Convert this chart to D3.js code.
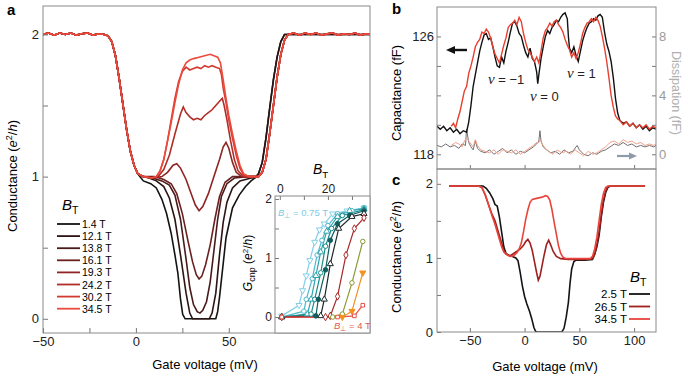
<!DOCTYPE html>
<html>
<head>
  <title>Conductance vs gate voltage</title>
  <script src="https://cdn.jsdelivr.net/npm/d3@7"></script>
  <style>
    body { margin: 0; background: #fff; }
    text { font-family: "Liberation Sans", Arial, sans-serif; }
  </style>
</head>
<body>
  <svg width="685" height="374" id="mainsvg"></svg>
  <script>
    // ---- panel a: conductance traces at several B_T ----
    const fieldsA = ['1.4 T', '12.1 T', '13.8 T', '16.1 T', '19.3 T', '24.2 T', '30.2 T', '34.5 T'];
    const colorsA = ['#141414', '#2c1414', '#4a1a1a', '#6c1f1f', '#8e2424', '#b22d27', '#d23a30', '#ec4a3c'];

    // shared left flank (2 -> 1 plateau), all traces overlap here
    const leftFlankA = [[-50, 2.0], [-47, 2.01], [-44, 1.995], [-41, 2.01], [-38, 2.0], [-35, 2.01], [-32, 1.995],
      [-29, 2.005], [-26, 2.01], [-23, 1.995], [-20, 2.005], [-17, 2.0], [-15, 1.99], [-13, 1.95], [-11, 1.85],
      [-9, 1.69], [-7, 1.51], [-5, 1.33], [-3, 1.18], [-1, 1.08], [1, 1.02]];
    const rightFlankRed = [[66, 1.0], [68, 1.03], [70, 1.12], [72, 1.3], [74, 1.5], [76, 1.7], [78, 1.86], [80, 1.96],
      [82, 2.0], [85, 2.01], [88, 1.995], [91, 2.01], [94, 2.0], [97, 2.01], [100, 1.995], [103, 2.005], [106, 2.01],
      [109, 1.995], [112, 2.005], [115, 2.0], [118, 2.01], [121, 1.995], [124, 2.005], [126, 2.0]];
    const rightFlankBlack = [[64, 0.99], [66, 1.02], [68, 1.1], [70, 1.27], [72, 1.48], [74, 1.68], [76, 1.84],
      [78, 1.95], [80, 2.0], [126, 2.0]];

    const midA = [
      [[4, 0.97], [8, 0.95], [11, 0.92], [14, 0.84], [16.5, 0.74], [19, 0.6], [21, 0.45], [22.6, 0.32], [24, 0.14],
        [25.2, 0.03], [26.5, 0], [43, 0], [44, 0.05], [45, 0.15], [46, 0.27], [48.5, 0.57], [52, 0.78], [55.6, 0.87],
        [59, 0.93], [62, 0.97]],
      [[4, 1.0], [7, 0.99], [11, 0.97], [15, 0.93], [18, 0.85], [21, 0.7], [24, 0.45], [27, 0.18], [29, 0.04],
        [30.5, 0], [39.5, 0], [41, 0.04], [43, 0.18], [45, 0.45], [47, 0.68], [49, 0.82], [52, 0.92], [56, 0.97],
        [62, 0.99]],
      [[4, 1.0], [9, 0.99], [14, 0.97], [18, 0.94], [21, 0.87], [24, 0.7], [27, 0.42], [29, 0.22], [31, 0.1],
        [33, 0.05], [34.5, 0.04], [36, 0.06], [38, 0.12], [40, 0.26], [42, 0.48], [44, 0.7], [46, 0.86], [49, 0.95],
        [53, 0.99], [60, 1.0]],
      [[4, 1.0], [10, 1.0], [15, 0.98], [19, 0.95], [22, 0.88], [25, 0.74], [28, 0.55], [30.5, 0.4], [32.5, 0.31],
        [34, 0.28], [35.5, 0.3], [37.5, 0.38], [40, 0.52], [42.5, 0.7], [45, 0.86], [48, 0.96], [52, 1.0], [60, 1.0]],
      [[4, 1.0], [10, 0.99], [14, 1.0], [17, 1.03], [20, 1.08], [22, 1.09], [24, 1.06], [27, 0.98], [30, 0.87],
        [32, 0.8], [34, 0.76], [36, 0.79], [39, 0.88], [42, 1.0], [45, 1.12], [47, 1.21], [48.5, 1.24], [50, 1.2],
        [52, 1.1], [54, 1.03], [57, 1.0], [62, 1.0]],
      [[4, 1.0], [9, 0.99], [12, 1.0], [15, 1.05], [18, 1.15], [21, 1.3], [24, 1.44], [25.5, 1.49], [27, 1.45],
        [29, 1.42], [31, 1.4], [33, 1.41], [35, 1.4], [37, 1.43], [39, 1.45], [41, 1.47], [43, 1.5], [45, 1.53],
        [46.5, 1.55], [47.5, 1.5], [49, 1.4], [51, 1.25], [53, 1.12], [55, 1.04], [58, 1.0], [62, 1.0]],
      [[4, 1.0], [9, 0.99], [11, 1.0], [13, 1.04], [15, 1.12], [17, 1.25], [19, 1.4], [21, 1.55], [23, 1.67],
        [25, 1.74], [27, 1.77], [29, 1.75], [31, 1.76], [33, 1.77], [35, 1.76], [37, 1.78], [39, 1.77], [41, 1.78],
        [43, 1.77], [45, 1.76], [46, 1.72], [47, 1.62], [48.5, 1.52], [50, 1.4], [52, 1.27], [54, 1.15], [56, 1.06],
        [58, 1.01], [61, 1.0]],
      [[4, 1.0], [8, 0.99], [11, 1.0], [13, 1.04], [15, 1.12], [17, 1.25], [19, 1.38], [21, 1.52], [23, 1.65],
        [25, 1.75], [27, 1.8], [29, 1.82], [31, 1.83], [34, 1.84], [37, 1.85], [40, 1.86], [42, 1.85], [44, 1.84],
        [45.5, 1.8], [47, 1.68], [48.5, 1.55], [50, 1.43], [52, 1.3], [54, 1.18], [56, 1.08], [58, 1.02], [61, 1.0]]
    ];

    // ---- inset: G_cnp vs B_T for several B_perp ----
    const insetColors = ['#84cfe8', '#4fb8cc', '#2ea3ac', '#1a8c8c', '#0f5f5f', '#1c2626', '#a82626', '#8c9a34', '#f29222', '#e8504a'];
    const insetSymbols = ['triDown', 'circle', 'tri', 'circle', 'dot', 'tri', 'diamond', 'circle', 'triDownFill', 'square'];
    const insetPoints = [
      [[0.8, 0.02], [8, 0.2], [9.5, 0.45], [11, 0.7], [12.5, 0.96], [14.5, 1.27], [16.5, 1.48], [18.5, 1.58], [22, 1.75], [28, 1.8], [35, 1.85]],
      [[0.8, 0], [10, 0.1], [11, 0.3], [13.5, 0.65], [15.5, 1.05], [17.5, 1.3], [20, 1.55], [24, 1.75], [30, 1.8], [35, 1.85]],
      [[0.8, 0], [11.5, 0.05], [13, 0.3], [15, 0.7], [17, 1.1], [19.5, 1.45], [24, 1.7], [29, 1.8], [35, 1.83]],
      [[0.8, 0], [13, 0.05], [14.5, 0.3], [17, 0.75], [19, 1.2], [21.5, 1.5], [26, 1.72], [35, 1.82]],
      [[0.8, 0], [15, 0.02], [16, 0.3], [19, 0.8], [21, 1.3], [24, 1.58], [29, 1.72], [35, 1.8]],
      [[0.8, 0], [17, 0.02], [18.5, 0.3], [21, 0.9], [24.5, 1.5], [30, 1.7], [35, 1.75]],
      [[0.8, 0], [19, 0], [21, 0.02], [24, 0.35], [27.5, 1.05], [31, 1.5], [35, 1.68]],
      [[22, 0], [26, 0.05], [30, 0.58], [34.5, 1.28]],
      [[26, 0], [30, 0.1], [34.5, 0.75]],
      [[0.8, 0], [24, 0], [31, 0.02], [34.5, 0.2]]
    ];

    // ---- panel b: capacitance and dissipation ----
    const capBlack = [[-80, 119.9], [-77, 119.7], [-74, 119.9], [-71, 119.6], [-68, 119.8], [-65, 119.5], [-62, 119.7],
      [-59, 119.4], [-56, 119.6], [-53, 119.5], [-51, 120.2], [-49, 121.3], [-47, 122.6], [-45, 123.4], [-43, 124.2],
      [-41, 125.0], [-39, 125.6], [-37, 126.1], [-35, 126.2], [-33, 125.8], [-31, 125.9], [-29, 125.3], [-27, 124.6],
      [-25, 124.0], [-23, 123.9], [-21, 124.6], [-19, 124.2], [-17, 125.0], [-15, 125.6], [-13, 126.3], [-11, 126.9],
      [-9, 127.0], [-7, 126.7], [-5, 126.2], [-3, 126.0], [-1, 125.4], [1, 124.9], [3, 124.6], [5, 125.2], [7, 124.5],
      [9, 124.3], [11, 123.6], [12, 122.8], [13, 123.4], [15, 124.5], [17, 125.3], [19, 126.0], [21, 126.4], [23, 126.2],
      [25, 126.6], [27, 126.8], [29, 127.1], [31, 127.0], [33, 127.3], [35, 127.5], [37, 127.6], [39, 127.2], [40, 126.0],
      [41, 125.2], [43, 124.9], [45, 125.3], [47, 124.7], [49, 124.3], [51, 125.0], [53, 125.7], [55, 126.2], [57, 126.6],
      [59, 126.9], [61, 127.0], [63, 127.2], [65, 127.1], [67, 127.4], [69, 127.5], [71, 127.3], [73, 126.3], [75, 125.5],
      [77, 125.0], [79, 124.3], [81, 123.2], [83, 121.8], [85, 120.8], [87, 120.3], [90, 120.1], [93, 120.2], [96, 119.9],
      [99, 120.1], [102, 119.8], [105, 120.0], [108, 119.7], [111, 119.9], [114, 119.6], [117, 119.8], [120, 119.7]];
    const capRed = [[-67, 119.9], [-65, 120.1], [-63, 119.8], [-61, 120.4], [-59, 120.9], [-57, 121.6], [-55, 122.3],
      [-53, 122.6], [-51, 123.5], [-49, 124.0], [-47, 124.6], [-45, 125.3], [-43, 125.6], [-41, 125.8], [-39, 126.3],
      [-37, 126.2], [-35, 126.5], [-33, 126.3], [-31, 125.9], [-29, 125.3], [-27, 124.8], [-25, 124.5], [-23, 124.2],
      [-21, 124.8], [-19, 125.4], [-17, 125.9], [-15, 126.6], [-13, 126.8], [-11, 126.9], [-9, 127.1], [-7, 126.8],
      [-5, 127.3], [-3, 127.0], [-1, 126.2], [1, 125.6], [3, 125.1], [5, 124.9], [7, 124.6], [9, 124.3], [11, 124.6],
      [13, 124.2], [15, 125.0], [17, 125.9], [19, 126.4], [21, 126.6], [23, 126.9], [25, 126.7], [27, 127.0], [29, 127.1],
      [31, 126.8], [33, 126.6], [35, 126.3], [37, 125.8], [39, 125.4], [41, 125.1], [43, 124.6], [45, 124.9], [47, 124.5],
      [49, 124.9], [51, 125.5], [53, 126.2], [55, 126.6], [57, 126.9], [59, 127.0], [61, 127.2], [63, 127.0], [65, 127.3],
      [67, 127.1], [69, 126.7], [71, 126.0], [73, 125.2], [75, 124.3], [77, 123.2], [79, 122.0], [81, 121.2], [83, 120.6],
      [85, 120.4], [87, 120.3], [90, 120.0], [93, 120.2], [96, 119.9], [99, 120.1], [102, 119.8], [105, 120.0],
      [108, 119.8], [111, 120.0], [114, 119.7], [117, 119.9], [120, 119.8]];
    const disGray = [[-80, 0.6], [-76, 0.5], [-72, 0.7], [-68, 0.5], [-64, 0.6], [-60, 0.4], [-57, 0.7], [-54, 0.6],
      [-53, 1.7], [-51, 0.8], [-49, 0.5], [-47, 0.3], [-45, 0.9], [-43, 0.4], [-40, 0.2], [-36, 0.1], [-32, 0.3],
      [-28, 0.0], [-24, 0.2], [-20, 0.4], [-16, 0.1], [-12, 0.3], [-8, 0.0], [-4, 0.2], [0, 0.1], [4, 0.3], [8, 0.5],
      [11, 0.7], [13, 0.9], [14, 1.6], [15, 0.9], [17, 0.5], [20, 0.3], [24, 0.1], [28, 0.2], [32, 0.0], [36, 0.3],
      [40, 0.1], [44, 0.2], [48, 0.6], [50, 0.3], [54, 0.0], [58, -0.1], [62, 0.1], [66, 0.0], [70, 0.2], [74, 0.3],
      [78, 0.5], [82, 0.7], [86, 0.6], [90, 0.8], [94, 0.6], [98, 0.7], [102, 0.5], [106, 0.6], [110, 0.5], [114, 0.6],
      [118, 0.5], [120, 0.6]];
    const disRed = [[-67, 0.6], [-63, 0.8], [-60, 0.7], [-57, 0.5], [-55, 0.9], [-53, 1.1], [-50, 0.8], [-47, 0.5],
      [-45, 1.0], [-43, 0.6], [-40, 0.3], [-36, 0.2], [-32, 0.1], [-28, 0.3], [-24, 0.0], [-20, 0.3], [-16, 0.2],
      [-12, 0.1], [-8, 0.3], [-4, 0.0], [0, 0.2], [4, 0.4], [8, 0.6], [11, 0.8], [13, 0.8], [14, 1.0], [16, 0.7],
      [19, 0.4], [22, 0.2], [26, 0.0], [30, 0.3], [34, 0.1], [38, 0.2], [42, 0.0], [46, 0.3], [50, 0.1], [54, -0.1],
      [58, 0.2], [62, 0.0], [66, 0.1], [70, 0.3], [74, 0.5], [78, 0.8], [82, 0.9], [86, 0.7], [90, 1.0], [94, 0.8],
      [98, 0.9], [102, 0.7], [106, 0.8], [110, 0.6], [114, 0.7], [118, 0.6], [120, 0.7]];

    // ---- panel c: three traces ----
    const fieldsC = ['2.5 T', '26.5 T', '34.5 T'];
    const colorsC = ['#141414', '#a01f1f', '#e8453a'];
    const curvesC = [
      [[-69, 1.97], [-45, 1.97], [-38, 1.97], [-35, 1.94], [-32, 1.88], [-29, 1.8], [-27, 1.72], [-25, 1.7], [-23, 1.55],
        [-21, 1.35], [-19, 1.15], [-17, 1.06], [-14, 1.03], [-11, 1.02], [-8, 1.0], [-6, 0.96], [-4, 0.8], [-2, 0.62],
        [0, 0.48], [2, 0.38], [4.5, 0.28], [6.5, 0.18], [8.5, 0.06], [10, 0.01], [11, 0], [34, 0], [36, 0.05], [38, 0.2],
        [40, 0.4], [41.5, 0.66], [43, 0.85], [45, 0.95], [47, 0.97], [55, 0.97], [62, 0.98], [64, 1.05], [66, 1.15],
        [68, 1.3], [70, 1.55], [72, 1.75], [74, 1.88], [76, 1.95], [78, 1.97], [110, 1.97]],
      [[-69, 1.97], [-42, 1.97], [-39, 1.95], [-36, 1.85], [-33, 1.72], [-30, 1.6], [-27, 1.5], [-25, 1.4], [-23, 1.3],
        [-21, 1.2], [-19, 1.1], [-17, 1.05], [-15, 1.04], [-13, 1.03], [-10, 1.06], [-7, 1.09], [-4, 1.12], [-1, 1.17],
        [1, 1.22], [3, 1.25], [5, 1.2], [7, 1.1], [9, 0.95], [11, 0.8], [12.5, 0.7], [14, 0.75], [16, 0.9], [18, 1.05],
        [20, 1.18], [22, 1.24], [24, 1.17], [26, 1.09], [29, 1.02], [33, 0.99], [40, 0.98], [55, 0.98], [62, 0.99],
        [64, 1.05], [66, 1.18], [68, 1.35], [70, 1.58], [72, 1.78], [74, 1.9], [76, 1.96], [78, 1.97], [110, 1.97]],
      [[-69, 1.97], [-42, 1.97], [-39, 1.95], [-36, 1.86], [-33, 1.72], [-30, 1.58], [-27, 1.45], [-25, 1.35],
        [-23, 1.25], [-21, 1.15], [-19, 1.08], [-16, 1.04], [-13, 1.02], [-10, 1.03], [-7, 1.07], [-5, 1.12], [-3, 1.2],
        [-1, 1.35], [1, 1.52], [3, 1.65], [5, 1.75], [7, 1.79], [10, 1.8], [13, 1.81], [16, 1.82], [19, 1.84], [21, 1.83],
        [23, 1.78], [25, 1.65], [27, 1.48], [29, 1.32], [31, 1.16], [33, 1.06], [35, 1.01], [38, 0.99], [50, 0.99],
        [60, 0.99], [62, 1.02], [64, 1.12], [66, 1.28], [68, 1.5], [70, 1.72], [72, 1.87], [74, 1.95], [76, 1.97],
        [110, 1.97]]
    ];

    const svg = d3.select('#mainsvg');
    const fmt = d => d < 0 ? '\u2212' + Math.abs(d) : String(d);
    const frameColor = '#8a8a8a';

    // scales
    const xA = d3.scaleLinear().domain([-50, 126]).range([43, 370]);
    const yA = d3.scaleLinear().domain([-0.1, 2.2]).range([333, 6]);
    const xIn = d3.scaleLinear().domain([-2, 37.5]).range([275, 370]);
    const yIn = d3.scaleLinear().domain([-0.27, 2.05]).range([333, 196]);
    const xBC = d3.scaleLinear().domain([-80, 120]).range([437, 656]);
    const yCap = d3.scaleLinear().domain([117, 128]).range([169, 7]);
    const yDis = d3.scaleLinear().domain([-1, 10]).range([169, 7]);
    const yC = d3.scaleLinear().domain([0, 2.2]).range([332, 169]);

    // clip paths for the panels
    const defs = svg.append('defs');
    const clip = (id, x, y, w, h) => defs.append('clipPath').attr('id', id)
      .append('rect').attr('x', x).attr('y', y).attr('width', w).attr('height', h);
    clip('clipA', 43, 6, 327, 327);
    clip('clipB', 437, 7, 219, 162);
    clip('clipC', 437, 169, 219, 163);

    function styleAxis(g, size, color) {
      g.select('.domain').remove();
      g.selectAll('line').attr('stroke', '#777');
      g.selectAll('text').attr('font-size', size).attr('fill', color || '#222')
        .attr('font-family', '"Liberation Sans", Arial, sans-serif');
    }

    function condLabel(t, prefix) {
      t.append('tspan').text(prefix);
      t.append('tspan').attr('font-style', 'italic').text('e');
      t.append('tspan').attr('dy', -5).attr('font-size', 9).text('2');
      t.append('tspan').attr('dy', 5).text('/');
      t.append('tspan').attr('font-style', 'italic').text('h');
      t.append('tspan').text(')');
    }

    function bLabel(t, sub, size) {
      t.append('tspan').attr('font-style', 'italic').text('B');
      t.append('tspan').attr('dy', 4).attr('font-size', size * 0.7).text(sub);
    }

    // ===================== panel a =====================
    const ga = svg.append('g');
    const lineA = d3.line().x(d => xA(d[0])).y(d => yA(d[1]));
    midA.forEach((mid, i) => {
      const pts = leftFlankA.concat(mid, i < 2 ? rightFlankBlack : rightFlankRed);
      ga.append('path').datum(pts).attr('d', lineA)
        .attr('clip-path', 'url(#clipA)')
        .attr('fill', 'none').attr('stroke', colorsA[i]).attr('stroke-width', 1.6);
    });

    const axAy = ga.append('g').attr('transform', 'translate(43,0)')
      .call(d3.axisLeft(yA).tickValues([0, 0.5, 1, 1.5, 2]).tickSize(-5).tickPadding(4)
        .tickFormat(d => Number.isInteger(d) ? fmt(d) : ''));
    styleAxis(axAy, 13);
    const axAx = ga.append('g').attr('transform', 'translate(0,333)')
      .call(d3.axisBottom(xA).tickValues([-50, -25, 0, 25, 50]).tickSize(-5).tickPadding(4)
        .tickFormat(d => d % 50 === 0 ? fmt(d) : ''));
    styleAxis(axAx, 13);
    ga.append('rect').attr('x', 43).attr('y', 6).attr('width', 327).attr('height', 327)
      .attr('fill', 'none').attr('stroke', frameColor);

    ga.append('text').text('a').attr('x', 7).attr('y', 15).attr('font-size', 15).attr('font-weight', 'bold');
    condLabel(ga.append('text').attr('font-size', 13).attr('text-anchor', 'middle')
      .attr('transform', 'translate(17,176) rotate(-90)'), 'Conductance  (');
    ga.append('text').text('Gate voltage (mV)').attr('x', 205).attr('y', 369)
      .attr('font-size', 13).attr('text-anchor', 'middle');

    // legend a
    bLabel(ga.append('text').attr('x', 62).attr('y', 210).attr('font-size', 15), 'T', 15);
    fieldsA.forEach((f, i) => {
      const y = 224 + i * 12.1;
      ga.append('line').attr('x1', 57).attr('x2', 80).attr('y1', y).attr('y2', y)
        .attr('stroke', colorsA[i]).attr('stroke-width', 1.8);
      ga.append('text').text(f).attr('x', 82).attr('y', y + 4).attr('font-size', 10.5);
    });

    // ===================== inset =====================
    const gi = svg.append('g');
    gi.append('rect').attr('x', 275).attr('y', 196).attr('width', 95).attr('height', 137).attr('fill', '#fff');
    const lineIn = d3.line().x(d => xIn(d[0])).y(d => yIn(d[1]));
    const symTypes = {
      triDown: d3.symbolTriangle, triDownFill: d3.symbolTriangle, tri: d3.symbolTriangle,
      circle: d3.symbolCircle, dot: d3.symbolCircle, diamond: d3.symbolDiamond, square: d3.symbolSquare
    };
    insetPoints.forEach((pts, i) => {
      gi.append('path').datum(pts).attr('d', lineIn).attr('fill', 'none')
        .attr('stroke', insetColors[i]).attr('stroke-width', 1.2);
    });
    insetPoints.forEach((pts, i) => {
      const s = insetSymbols[i];
      const filled = s === 'dot' || s === 'triDownFill';
      const rot = s.startsWith('triDown') ? 180 : 0;
      gi.selectAll(null).data(pts).join('path')
        .attr('d', d3.symbol().type(symTypes[s]).size(s === 'square' ? 13 : 16))
        .attr('transform', d => `translate(${xIn(d[0])},${yIn(d[1])}) rotate(${rot})`)
        .attr('fill', filled ? insetColors[i] : '#fff')
        .attr('stroke', insetColors[i]).attr('stroke-width', 1);
    });
    const axIy = gi.append('g').attr('transform', 'translate(275,0)')
      .call(d3.axisLeft(yIn).tickValues([0, 0.5, 1, 1.5, 2]).tickSize(-4).tickPadding(3)
        .tickFormat(d => Number.isInteger(d) ? fmt(d) : ''));
    styleAxis(axIy, 12);
    const axIx = gi.append('g').attr('transform', 'translate(0,196)')
      .call(d3.axisTop(xIn).tickValues([0, 10, 20, 30]).tickSize(-4).tickPadding(3)
        .tickFormat(d => d % 20 === 0 ? fmt(d) : ''));
    styleAxis(axIx, 12);
    gi.append('rect').attr('x', 275).attr('y', 196).attr('width', 95).attr('height', 137)
      .attr('fill', 'none').attr('stroke', frameColor);
    bLabel(gi.append('text').attr('x', 313).attr('y', 174).attr('font-size', 14), 'T', 14);

    const gl = gi.append('text').attr('font-size', 12).attr('text-anchor', 'middle')
      .attr('transform', 'translate(252,263) rotate(-90)');
    gl.append('tspan').attr('font-style', 'italic').text('G');
    gl.append('tspan').attr('dy', 3).attr('font-size', 9).text('cnp');
    gl.append('tspan').attr('dy', -3).text(' (');
    gl.append('tspan').attr('font-style', 'italic').text('e');
    gl.append('tspan').attr('dy', -4).attr('font-size', 8).text('2');
    gl.append('tspan').attr('dy', 4).text('/');
    gl.append('tspan').attr('font-style', 'italic').text('h');
    gl.append('tspan').text(')');

    const perp1 = gi.append('text').attr('x', 278).attr('y', 216).attr('font-size', 9.5).attr('fill', '#7ccbe4');
    perp1.append('tspan').attr('font-style', 'italic').text('B');
    perp1.append('tspan').attr('dy', 2).attr('font-size', 6.5).text('\u22a5');
    perp1.append('tspan').attr('dy', -2).text(' = 0.75 T');
    const perp2 = gi.append('text').attr('x', 334).attr('y', 329).attr('font-size', 9.5).attr('fill', '#e05a4e');
    perp2.append('tspan').attr('font-style', 'italic').text('B');
    perp2.append('tspan').attr('dy', 2).attr('font-size', 6.5).text('\u22a5');
    perp2.append('tspan').attr('dy', -2).text(' = 4 T');

    // ===================== panel b =====================
    const gb = svg.append('g');
    const lineCap = d3.line().x(d => xBC(d[0])).y(d => yCap(d[1]));
    const lineDis = d3.line().x(d => xBC(d[0])).y(d => yDis(d[1]));
    gb.append('path').datum(disGray).attr('d', lineDis).attr('clip-path', 'url(#clipB)')
      .attr('fill', 'none').attr('stroke', '#707070').attr('stroke-width', 1);
    gb.append('path').datum(disRed).attr('d', lineDis).attr('clip-path', 'url(#clipB)')
      .attr('fill', 'none').attr('stroke', '#f2a08a').attr('stroke-width', 1);
    gb.append('path').datum(capBlack).attr('d', lineCap).attr('clip-path', 'url(#clipB)')
      .attr('fill', 'none').attr('stroke', '#111').attr('stroke-width', 1.4);
    gb.append('path').datum(capRed).attr('d', lineCap).attr('clip-path', 'url(#clipB)')
      .attr('fill', 'none').attr('stroke', '#e8402f').attr('stroke-width', 1.4);

    const axBl = gb.append('g').attr('transform', 'translate(437,0)')
      .call(d3.axisLeft(yCap).tickValues([118, 120, 122, 124, 126]).tickSize(-4).tickPadding(3)
        .tickFormat(d => d === 118 || d === 126 ? fmt(d) : ''));
    styleAxis(axBl, 13);
    const axBr = gb.append('g').attr('transform', 'translate(656,0)')
      .call(d3.axisRight(yDis).tickValues([0, 2, 4, 6, 8]).tickSize(-4).tickPadding(3)
        .tickFormat(d => d % 4 === 0 ? fmt(d) : ''));
    styleAxis(axBr, 13, '#9a9a9a');
    const axBb = gb.append('g').attr('transform', 'translate(0,169)')
      .call(d3.axisBottom(xBC).tickValues([-50, 0, 50, 100]).tickSize(-4).tickFormat(''));
    styleAxis(axBb, 13);
    gb.append('rect').attr('x', 437).attr('y', 7).attr('width', 219).attr('height', 162)
      .attr('fill', 'none').attr('stroke', frameColor);

    gb.append('text').text('b').attr('x', 392).attr('y', 14).attr('font-size', 15).attr('font-weight', 'bold');
    gb.append('text').text('Capacitance (fF)').attr('font-size', 13).attr('text-anchor', 'middle')
      .attr('transform', 'translate(401,93) rotate(-90)');
    gb.append('text').text('Dissipation (fF)').attr('font-size', 12.5).attr('text-anchor', 'middle')
      .attr('fill', '#b0b0b0').attr('transform', 'translate(672,93) rotate(90)');

    // arrows
    gb.append('line').attr('x1', 467).attr('x2', 453).attr('y1', 50).attr('y2', 50)
      .attr('stroke', '#111').attr('stroke-width', 2.4);
    gb.append('path').attr('d', 'M446,50 L455,46 L455,54 Z').attr('fill', '#111');
    gb.append('line').attr('x1', 617).attr('x2', 630).attr('y1', 156).attr('y2', 156)
      .attr('stroke', '#8c9ba8').attr('stroke-width', 2.2);
    gb.append('path').attr('d', 'M637,156 L629,152.5 L629,159.5 Z').attr('fill', '#8c9ba8');

    // filling-factor labels
    const nuLabels = [['\u22121', 488, 84], ['0', 530, 101], ['1', 567, 78]];
    nuLabels.forEach(([v, x, y]) => {
      const t = gb.append('text').attr('x', x).attr('y', y).attr('font-size', 13).attr('fill', '#222');
      t.append('tspan').attr('font-family', '"Liberation Serif", "DejaVu Serif", serif')
        .attr('font-style', 'italic').attr('font-size', 15).text('\u03bd');
      t.append('tspan').text(' = ' + v);
    });

    // ===================== panel c =====================
    const gc = svg.append('g');
    const lineC = d3.line().x(d => xBC(d[0])).y(d => yC(d[1]));
    curvesC.forEach((pts, i) => {
      gc.append('path').datum(pts).attr('d', lineC).attr('clip-path', 'url(#clipC)')
        .attr('fill', 'none').attr('stroke', colorsC[i]).attr('stroke-width', 1.6);
    });
    const axCl = gc.append('g').attr('transform', 'translate(437,0)')
      .call(d3.axisLeft(yC).tickValues([0, 0.5, 1, 1.5, 2]).tickSize(-4).tickPadding(4)
        .tickFormat(d => Number.isInteger(d) ? fmt(d) : ''));
    styleAxis(axCl, 13);
    const axCb = gc.append('g').attr('transform', 'translate(0,332)')
      .call(d3.axisBottom(xBC).tickValues([-50, 0, 50, 100]).tickSize(-4).tickPadding(4).tickFormat(fmt));
    styleAxis(axCb, 13);
    gc.append('rect').attr('x', 437).attr('y', 169).attr('width', 219).attr('height', 163)
      .attr('fill', 'none').attr('stroke', frameColor);

    gc.append('text').text('c').attr('x', 392).attr('y', 185).attr('font-size', 15).attr('font-weight', 'bold');
    condLabel(gc.append('text').attr('font-size', 13).attr('text-anchor', 'middle')
      .attr('transform', 'translate(401,257) rotate(-90)'), 'Conductance (');
    gc.append('text').text('Gate voltage (mV)').attr('x', 545).attr('y', 371)
      .attr('font-size', 13).attr('text-anchor', 'middle');

    bLabel(gc.append('text').attr('x', 630).attr('y', 282).attr('font-size', 15), 'T', 15);
    fieldsC.forEach((f, i) => {
      const y = 294 + i * 12.5;
      gc.append('text').text(f).attr('x', 627).attr('y', y + 4).attr('font-size', 11.5).attr('text-anchor', 'end');
      gc.append('line').attr('x1', 629).attr('x2', 650).attr('y1', y).attr('y2', y)
        .attr('stroke', colorsC[i]).attr('stroke-width', 1.8);
    });
  </script>
</body>
</html>
